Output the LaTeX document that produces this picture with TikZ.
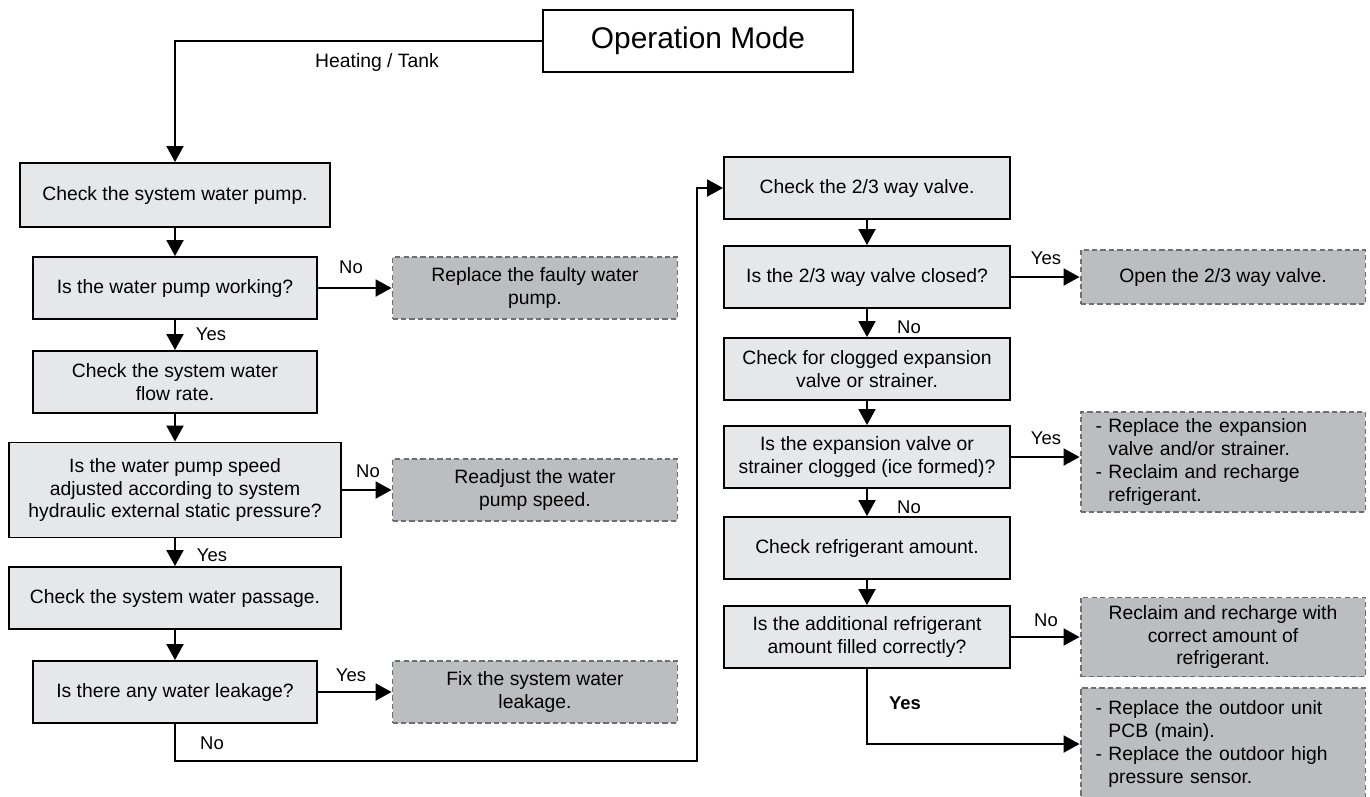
\documentclass[tikz,border=0pt]{standalone}
\usepackage{fontspec}
\setmainfont{Liberation Sans}
\usepackage{xcolor}
\usetikzlibrary{arrows.meta, positioning, calc}

\definecolor{procfill}{HTML}{E6E7E9}
\definecolor{actfill}{HTML}{BCBDC0}
\definecolor{actline}{HTML}{6D6E71}

\begin{document}
\begin{tikzpicture}[x=0.02cm, y=-0.02cm, >={Triangle[length=0.32cm, width=0.34cm]},
    every node/.style={font=\fontsize{11}{13}\selectfont},
    proc/.style={draw=black, line width=1.1pt, fill=procfill, align=center, inner sep=2pt, minimum height=1.24cm},
    act/.style={draw=actline, line width=1.1pt, dash pattern=on 3pt off 1.8pt, fill=actfill, align=center, inner sep=2pt, minimum width=5.7cm, minimum height=1.24cm},
    actlist/.style={act, align=left, text width=5.1cm},
    flow/.style={->, line width=1.1pt},
    lbl/.style={font=\fontsize{10.5}{12}\selectfont}]
  \useasboundingbox (0,0) rectangle (1370,796);
  \node[draw=black, line width=1.1pt, minimum width=6.2cm, minimum height=1.24cm, font=\fontsize{17}{20}\selectfont] (mode) at (698,41) {Operation Mode};
  \node[lbl, font=\fontsize{11}{13}\selectfont] (heat) at (377,62) {Heating / Tank};
  % left column
  \node[proc, minimum width=6.2cm, minimum height=1.28cm] (b1) at (175,195) {Check the system water pump.};
  \node[proc, minimum width=5.68cm] (b2) at (175,288) {Is the water pump working?};
  \node[proc, minimum width=5.68cm] (b3) at (175,382) {Check the system water\\flow rate.};
  \node[proc, minimum width=6.64cm, minimum height=1.9cm] (b4) at (175,490) {Is the water pump speed\\adjusted according to system\\hydraulic external static pressure?};
  \node[proc, minimum width=6.64cm] (b5) at (175,598) {Check the system water passage.};
  \node[proc, minimum width=5.68cm] (b6) at (175,692) {Is there any water leakage?};
  \node[act] (a1) at (535,288) {Replace the faulty water\\pump.};
  \node[act] (a2) at (535,490) {Readjust the water\\pump speed.};
  \node[act] (a3) at (535,692) {Fix the system water\\leakage.};
  % right column
  \node[proc, minimum width=5.72cm] (b7) at (867,188) {Check the 2/3 way valve.};
  \node[proc, minimum width=5.72cm] (b8) at (867,277) {Is the 2/3 way valve closed?};
  \node[proc, minimum width=5.72cm] (b9) at (867,369) {Check for clogged expansion\\valve or strainer.};
  \node[proc, minimum width=5.72cm] (b10) at (867,457) {Is the expansion valve or\\strainer clogged (ice formed)?};
  \node[proc, minimum width=5.72cm] (b11) at (867,548) {Check refrigerant amount.};
  \node[proc, minimum width=5.72cm] (b12) at (867,637) {Is the additional refrigerant\\amount filled correctly?};
  \node[act, minimum height=1.08cm] (a4) at (1223,277) {Open the 2/3 way valve.};
  \node[actlist, minimum height=2.0cm] (a5) at (1223,462) {- Replace the expansion\\\hphantom{- }valve and/or strainer.\\- Reclaim and recharge\\\hphantom{- }refrigerant.};
  \node[act, minimum height=1.58cm] (a6) at (1223,637) {Reclaim and recharge with\\correct amount of\\refrigerant.};
  \node[actlist, minimum height=2.24cm] (a7) at (1223,744) {- Replace the outdoor unit\\\hphantom{- }PCB (main).\\- Replace the outdoor high\\\hphantom{- }pressure sensor.};
  \coordinate (c1) at (697,761);
  % connectors
  \draw[flow] (mode.west) -| (b1.north);
  \draw[flow] (b1) -- (b2);
  \draw[flow] (b2) -- (b3);
  \draw[flow] (b3) -- (b4);
  \draw[flow] (b4) -- (b5);
  \draw[flow] (b5) -- (b6);
  \draw[flow] (b2) -- (a1);
  \draw[flow] (b4) -- (a2);
  \draw[flow] (b6) -- (a3);
  \draw[flow] (b6.south) |- (c1) |- (b7.west);
  \draw[flow] (b7) -- (b8);
  \draw[flow] (b8) -- (b9);
  \draw[flow] (b9) -- (b10);
  \draw[flow] (b10) -- (b11);
  \draw[flow] (b11) -- (b12);
  \draw[flow] (b8) -- (a4);
  \draw[flow] (b10.east) -- (b10.east -| a5.west);
  \draw[flow] (b12) -- (a6);
  \draw[flow] (b12.south) |- (a7.west);
  % labels
  \node[lbl] (n1) at (351,267) {No};
  \node[lbl] (y1) at (211,334) {Yes};
  \node[lbl] (n2) at (368,471) {No};
  \node[lbl] (y2) at (212,555) {Yes};
  \node[lbl] (y3) at (351,675) {Yes};
  \node[lbl] (n3) at (212,743) {No};
  \node[lbl] (y4) at (1046,258) {Yes};
  \node[lbl] (n4) at (909,327) {No};
  \node[lbl] (y5) at (1046,438) {Yes};
  \node[lbl] (n5) at (909,507) {No};
  \node[lbl] (n6) at (1046,620) {No};
  \node[lbl, font=\fontsize{10.5}{12}\selectfont\bfseries] (y6) at (905,703) {Yes};
\end{tikzpicture}
\end{document}
